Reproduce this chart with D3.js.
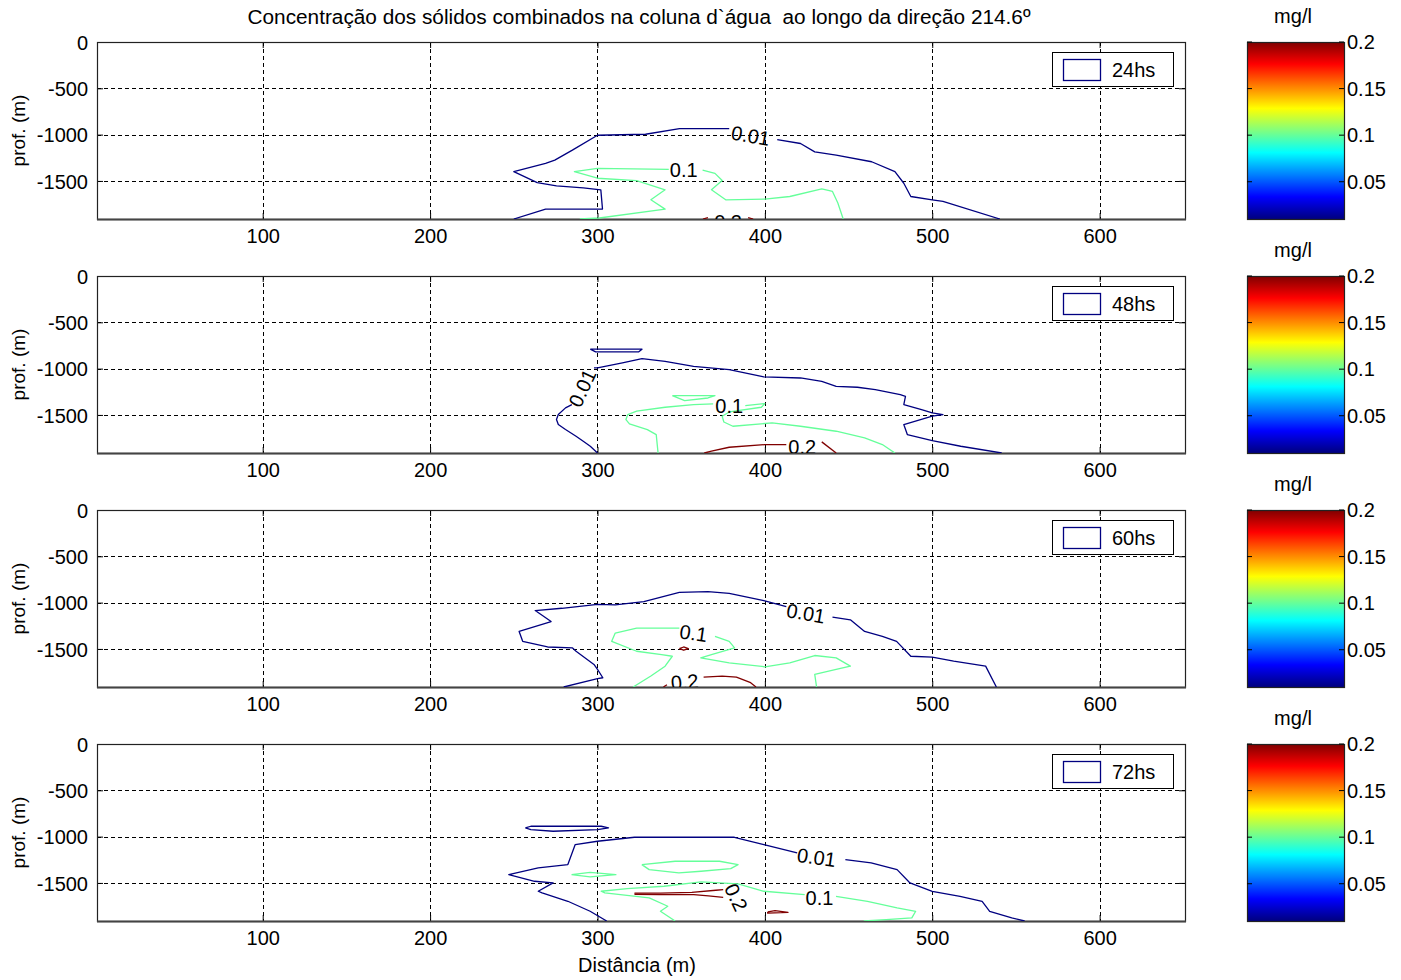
<!DOCTYPE html>
<html><head><meta charset="utf-8">
<script src="https://cdn.jsdelivr.net/npm/d3@7"></script>
<style>
body{margin:0;background:#fff}
text{font-family:"Liberation Sans",Arial,sans-serif;fill:#000}
</style>
</head><body>
<svg id="c" width="1401" height="980"></svg>
<script>
// ---------- data ----------
const titleText = "Concentração dos sólidos combinados na coluna d`água  ao longo da direção 214.6º";
const xLabelText = "Distância (m)";
const yLabelText = "prof. (m)";
const unitText = "mg/l";
const panelNames = ["24hs", "48hs", "60hs", "72hs"];
const xTicks = [100, 200, 300, 400, 500, 600];
const yTicks = [0, -500, -1000, -1500];
const cbTicks = [0.05, 0.1, 0.15, 0.2];
const cbTickLabels = ["0.05", "0.1", "0.15", "0.2"];
const xDomain = [1, 651];
const yDomain = [-1911, 0];
const cDomain = [0.01, 0.2];
const levels = [0.01, 0.1, 0.2];

// contour polylines [distance (m), depth (m)]
// 24hs
const h24_l001_a = [[250,-1911],[269,-1804],[303,-1804],[302,-1596],[291.5,-1575],[275.5,-1554],[264,-1518],[250,-1400],[269,-1311],[274.5,-1275],[285,-1168],[300,-1007],[328.7,-996],[349,-936],[378.7,-936]];
const h24_l001_b = [[407.4,-1054],[421.3,-1096],[429.8,-1186],[442.6,-1221],[463.8,-1293],[477.7,-1400],[483,-1525],[487.2,-1668],[500,-1704],[506.4,-1721],[540.4,-1911]];
const h24_l01_a = [[289.4,-1911],[301.1,-1900],[340.4,-1804],[331.9,-1704],[340.4,-1596],[323.4,-1496],[300,-1471],[286.2,-1400],[300,-1364],[342.6,-1375]];
const h24_l01_b = [[362.8,-1382],[370.2,-1418],[374.5,-1496],[368.1,-1596],[376.6,-1704],[400,-1696],[414.9,-1668],[434,-1586],[440.4,-1614],[443.6,-1739],[446.8,-1911]];
const h24_l02_a = [[363,-1911],[366,-1895]];
const h24_l02_b = [[390,-1895],[393,-1911]];
const h24_labels = [{t:"0.01",x:391.5,d:-1010,a:10},{t:"0.1",x:351.5,d:-1382,a:0},{t:"0.2",x:378,d:-1940,a:0}];

// 48hs
const h48_l001_a = [[295.7,-790],[326.6,-790],[324.5,-820],[298.9,-820],[295.7,-790]];
const h48_l001_b = [[300,-1911],[295.7,-1838],[291.5,-1784],[287.2,-1730],[280.9,-1658],[276.6,-1604],[275.5,-1550],[276.6,-1496],[280.9,-1424],[284.7,-1388]];
const h48_l001_c = [[297.9,-993],[300,-993],[314.9,-939],[326.6,-892],[340.4,-921],[357.4,-975],[378.7,-1011],[399.4,-1090],[421.3,-1101],[434,-1137],[442.6,-1191],[455.3,-1201],[466,-1227],[480.9,-1281],[484,-1299],[483,-1388],[493.6,-1442],[500,-1478],[506.4,-1496],[500,-1514],[483,-1604],[485.1,-1712],[500,-1777],[517,-1838],[541.5,-1911]];
const h48_l01_a = [[344.7,-1291],[370.2,-1291],[366,-1317],[352.1,-1345],[344.7,-1291]];
const h48_l01_b = [[336.2,-1911],[335.1,-1712],[329.8,-1658],[319.1,-1597],[317,-1550],[318.1,-1496],[323.4,-1460],[340.4,-1417],[357.4,-1388],[369.1,-1381]];
const h48_l01_c = [[388.3,-1399],[400,-1378],[397.9,-1417],[378.7,-1468],[374.5,-1514],[375.5,-1576],[380.9,-1622],[404.3,-1586],[421.3,-1622],[442.6,-1676],[459.6,-1748],[470.2,-1820],[477.7,-1911]];
const h48_l02_a = [[363.8,-1911],[368.1,-1892],[378.7,-1849],[400,-1820],[412.8,-1820]];
const h48_l02_b = [[434,-1791],[442.6,-1911]];
const h48_labels = [{t:"0.01",x:290.9,d:-1209,a:-65},{t:"0.1",x:378.7,d:-1406,a:0},{t:"0.2",x:422.3,d:-1845,a:0}];

// 60hs
const h60_l001_a = [[279.8,-1911],[300,-1821],[303.2,-1811],[300,-1721],[297.9,-1668],[287.2,-1525],[285.1,-1489],[270.2,-1479],[255.3,-1418],[253.2,-1311],[272.3,-1204],[262.8,-1086],[278.7,-1061],[300,-1018],[310.6,-1025],[327.7,-989],[348.9,-889],[366,-882],[378.7,-900],[399.4,-979],[412.8,-1043]];
const h60_l001_b = [[440.4,-1157],[451.1,-1186],[459.6,-1311],[470.2,-1364],[478.7,-1418],[487.2,-1579],[500,-1589],[512.8,-1632],[531.9,-1686],[538.3,-1911]];
const h60_l01_a = [[321.3,-1911],[331.9,-1793],[340.4,-1686],[344.7,-1579],[338.3,-1561],[323.4,-1525],[308.5,-1418],[310.6,-1329],[323.4,-1275],[348.9,-1275]];
const h60_l01_b = [[370.2,-1364],[378.7,-1418],[381.9,-1489],[368.1,-1561],[361.7,-1596],[378.7,-1650],[400,-1693],[414.9,-1650],[429.8,-1571],[442.6,-1596],[451.1,-1686],[442.6,-1721],[429.8,-1775],[430.9,-1911]];
const h60_l02_a = [[348.9,-1496],[351.5,-1479],[354.3,-1496],[351.5,-1514],[348.9,-1496]];
const h60_l02_b = [[339.4,-1911],[341.5,-1886]];
const h60_l02_c = [[363.4,-1804],[374.5,-1793],[383,-1804],[391.5,-1864],[394.7,-1911]];
const h60_labels = [{t:"0.01",x:424.5,d:-1114,a:10},{t:"0.1",x:357.4,d:-1329,a:8},{t:"0.2",x:352.1,d:-1854,a:-5}];

// 72hs
const h72_l001_a = [[256.9,-906],[260.2,-888],[302.2,-888],[306.6,-906],[300,-924],[273.5,-942],[260.2,-924],[256.9,-906]];
const h72_l001_b = [[305.5,-1911],[295.6,-1806],[282.3,-1698],[266.9,-1608],[264.6,-1590],[273.5,-1500],[262.4,-1482],[247,-1410],[264.6,-1338],[282.3,-1302],[286.7,-1086],[300,-1050],[322.1,-1007],[381.8,-1007],[399.4,-1086],[419.3,-1176]];
const h72_l001_c = [[448.1,-1248],[463.5,-1284],[479,-1356],[486.7,-1500],[500,-1590],[516.6,-1644],[529.8,-1698],[534.3,-1806],[547.5,-1878],[555.2,-1911]];
const h72_l01_a = [[326.5,-1302],[346.4,-1266],[372.9,-1266],[384,-1302],[379.6,-1345],[361.9,-1374],[348.6,-1392],[330.9,-1356],[326.5,-1302]];
const h72_l01_b = [[284.5,-1410],[295.6,-1385],[311,-1410],[295.6,-1435],[284.5,-1410]];
const h72_l01_c = [[346.4,-1911],[337.6,-1806],[342,-1752],[330.9,-1662],[304.4,-1608],[302.2,-1590],[317.7,-1561],[339.8,-1536],[361.9,-1489],[384,-1511],[399.4,-1590],[423.8,-1626]];
const h72_l01_d = [[442.5,-1644],[461.3,-1698],[479,-1770],[490.1,-1806],[487.8,-1878],[472.4,-1896],[459.1,-1911]];
const h72_l02_a = [[322.1,-1611],[337.6,-1611],[356.4,-1601],[370.7,-1579],[375.1,-1572]];
const h72_l02_b = [[375.1,-1655],[366.3,-1640],[357.5,-1626],[337.6,-1626],[322.1,-1622]];
const h72_l02_c = [[401.7,-1813],[406.1,-1799],[413.8,-1817],[401.7,-1827],[401.7,-1813]];
const h72_labels = [{t:"0.01",x:430.8,d:-1223,a:8},{t:"0.1",x:432.6,d:-1662,a:0},{t:"0.2",x:382.9,d:-1655,a:65}];

const panels = [
  {name: panelNames[0], lines: [[0.01,h24_l001_a],[0.01,h24_l001_b],[0.1,h24_l01_a],[0.1,h24_l01_b],[0.2,h24_l02_a],[0.2,h24_l02_b]], labels: h24_labels},
  {name: panelNames[1], lines: [[0.01,h48_l001_a],[0.01,h48_l001_b],[0.01,h48_l001_c],[0.1,h48_l01_a],[0.1,h48_l01_b],[0.1,h48_l01_c],[0.2,h48_l02_a],[0.2,h48_l02_b]], labels: h48_labels},
  {name: panelNames[2], lines: [[0.01,h60_l001_a],[0.01,h60_l001_b],[0.1,h60_l01_a],[0.1,h60_l01_b],[0.2,h60_l02_a],[0.2,h60_l02_b],[0.2,h60_l02_c]], labels: h60_labels},
  {name: panelNames[3], lines: [[0.01,h72_l001_a],[0.01,h72_l001_b],[0.01,h72_l001_c],[0.1,h72_l01_a],[0.1,h72_l01_b],[0.1,h72_l01_c],[0.1,h72_l01_d],[0.2,h72_l02_a],[0.2,h72_l02_b],[0.2,h72_l02_c]], labels: h72_labels}
];

// ---------- layout ----------
const W = 1401, H = 980;
const L = 97, R = 1185, PH = 177;
const tops = [42, 276, 510, 744];
const cbX = 1247, cbW = 97;
const FS = 20;

function clamp(v){return Math.max(0, Math.min(1, v));}
function jet(t){
  return d3.rgb(255*clamp(1.5-Math.abs(4*t-3)), 255*clamp(1.5-Math.abs(4*t-2)), 255*clamp(1.5-Math.abs(4*t-1)));
}
const cnorm = d3.scaleLinear().domain(cDomain).range([0,1]);
const lineColor = v => jet(cnorm(v)).formatHex();
const fmtInt = d => String(d);

const svg = d3.select("#c");
svg.append("rect").attr("width", W).attr("height", H).attr("fill", "#fff");

const defs = svg.append("defs");
const grad = defs.append("linearGradient").attr("id","jet").attr("x1",0).attr("y1",1).attr("x2",0).attr("y2",0);
d3.range(0, 1.0001, 1/64).forEach(t => grad.append("stop").attr("offset", t).attr("stop-color", jet(t).formatHex()));

const x = d3.scaleLinear().domain(xDomain).range([L, R]);

svg.append("text").attr("x", 639).attr("y", 24).attr("text-anchor","middle")
  .style("white-space","pre").attr("xml:space","preserve")
  .attr("font-size", FS).attr("textLength", 783).attr("lengthAdjust","spacingAndGlyphs").text(titleText);

panels.forEach((p, i) => {
  const top = tops[i];
  const y = d3.scaleLinear().domain(yDomain).range([top + PH, top]);
  const g = svg.append("g");
  const clipId = "clip" + i;
  defs.append("clipPath").attr("id", clipId).append("rect").attr("x", L).attr("y", top).attr("width", R - L).attr("height", PH);

  // grid
  const grid = g.append("g").attr("stroke", "#000").attr("stroke-width", 1).attr("stroke-dasharray", "4,3");
  grid.selectAll("line.v").data(xTicks).join("line").attr("class","v")
    .attr("x1", d => Math.round(x(d)) + 0.5).attr("x2", d => Math.round(x(d)) + 0.5).attr("y1", top).attr("y2", top + PH);
  grid.selectAll("line.h").data(yTicks.filter(d => d !== 0)).join("line").attr("class","h")
    .attr("y1", d => Math.round(y(d)) + 0.5).attr("y2", d => Math.round(y(d)) + 0.5).attr("x1", L).attr("x2", R);

  // axes
  const ax = g.append("g").attr("transform", `translate(0,${top + PH})`)
    .call(d3.axisBottom(x).tickValues(xTicks).tickSizeInner(-6).tickSizeOuter(0).tickPadding(10).tickFormat(fmtInt));
  const axT = g.append("g").attr("transform", `translate(0,${top})`)
    .call(d3.axisBottom(x).tickValues(xTicks).tickSizeInner(6).tickSizeOuter(0).tickFormat(""));
  const ay = g.append("g").attr("transform", `translate(${L},0)`)
    .call(d3.axisLeft(y).tickValues(yTicks).tickSizeInner(-6).tickSizeOuter(0).tickPadding(9).tickFormat(fmtInt));
  const ayR = g.append("g").attr("transform", `translate(${R},0)`)
    .call(d3.axisLeft(y).tickValues(yTicks).tickSizeInner(6).tickSizeOuter(0).tickFormat(""));
  [ax, axT, ay, ayR].forEach(a => {
    a.select(".domain").remove();
    a.selectAll(".tick line").attr("stroke", "#000");
    a.selectAll("text").attr("font-size", FS).attr("font-family", '"Liberation Sans",Arial,sans-serif').attr("fill","#000");
  });
  ay.selectAll("text").attr("dy", "0.36em");

  // box
  g.append("rect").attr("x", L + 0.5).attr("y", top + 0.5).attr("width", R - L).attr("height", PH)
    .attr("fill", "none").attr("stroke", "#222").attr("stroke-width", 1.2);
  g.append("line").attr("x1", L).attr("x2", R + 1).attr("y1", top + PH + 0.5).attr("y2", top + PH + 0.5)
    .attr("stroke", "#444").attr("stroke-width", 2);

  // contours
  const line = d3.line().x(d => x(d[0])).y(d => y(d[1]));
  const cg = g.append("g").attr("clip-path", `url(#${clipId})`);
  cg.selectAll("path").data(p.lines).join("path")
    .attr("d", d => line(d[1])).attr("fill", "none")
    .attr("stroke", d => lineColor(d[0])).attr("stroke-width", 1.3).attr("stroke-linejoin","round");
  cg.selectAll("text").data(p.labels).join("text")
    .attr("transform", d => `translate(${x(d.x)},${y(d.d)}) rotate(${d.a})`)
    .attr("text-anchor", "middle").attr("dy", "0.36em").attr("font-size", FS).text(d => d.t);

  // legend
  const lg = g.append("g");
  lg.append("rect").attr("x", 1052.5).attr("y", top + 10.5).attr("width", 121).attr("height", 34)
    .attr("fill", "#fff").attr("stroke", "#000").attr("stroke-width", 1);
  lg.append("rect").attr("x", 1063.5).attr("y", top + 17.5).attr("width", 37).attr("height", 21)
    .attr("fill", "#fff").attr("stroke", lineColor(levels[0])).attr("stroke-width", 1.3);
  lg.append("text").attr("x", 1112).attr("y", top + 28).attr("dy", "0.36em").attr("font-size", FS).text(p.name);

  // colorbar
  const cy = d3.scaleLinear().domain(cDomain).range([top + PH, top]);
  const cb = svg.append("g");
  cb.append("rect").attr("x", cbX).attr("y", top).attr("width", cbW).attr("height", PH).attr("fill", "url(#jet)");
  cb.append("rect").attr("x", cbX + 0.5).attr("y", top + 0.5).attr("width", cbW).attr("height", PH)
    .attr("fill", "none").attr("stroke", "#222").attr("stroke-width", 1.2);
  cb.selectAll("line.tl").data(cbTicks).join("line").attr("class","tl")
    .attr("x1", cbX).attr("x2", cbX + 5).attr("y1", d => cy(d)).attr("y2", d => cy(d)).attr("stroke", "#000");
  cb.selectAll("line.tr").data(cbTicks).join("line").attr("class","tr")
    .attr("x1", cbX + cbW - 5).attr("x2", cbX + cbW).attr("y1", d => cy(d)).attr("y2", d => cy(d)).attr("stroke", "#000");
  cb.selectAll("text.tk").data(cbTicks).join("text").attr("class","tk")
    .attr("x", cbX + cbW + 3).attr("y", d => cy(d)).attr("dy", "0.36em").attr("font-size", FS)
    .text((d, k) => cbTickLabels[k]);
  cb.append("text").attr("x", 1293).attr("y", top - 19).attr("text-anchor","middle").attr("font-size", FS).text(unitText);

  // y label
  svg.append("text").attr("transform", `translate(25,${top + PH/2}) rotate(-90)`)
    .attr("text-anchor","middle").attr("font-size", FS - 1).text(yLabelText);
});

svg.append("text").attr("x", 637).attr("y", 972).attr("text-anchor","middle").attr("font-size", FS).text(xLabelText);
</script>
</body></html>
